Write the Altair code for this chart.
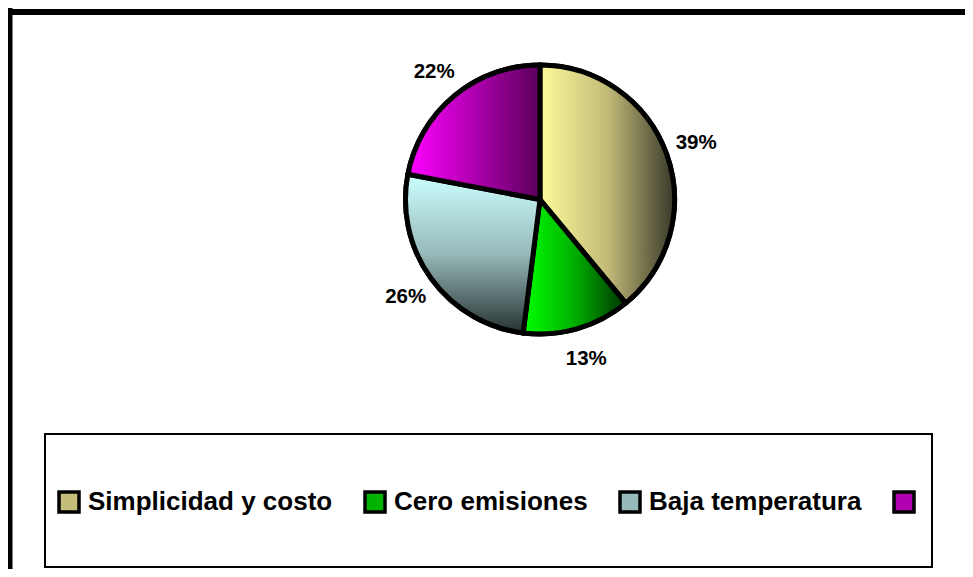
import math
import altair as alt
import pandas as pd

# ---- data ----
categories = ["Simplicidad y costo", "Cero emisiones", "Baja temperatura", " "]
values = [39, 13, 26, 22]
order = [0, 1, 2, 3]

# ---- styling ----
flat_colors = ["#c5be7a", "#00b300", "#97b9b9", "#b000b0"]
gradients = [
    {"gradient": "linear", "x1": 0, "y1": 0, "x2": 1, "y2": 0,
     "stops": [{"offset": 0, "color": "#fdfb9b"}, {"offset": 0.5, "color": "#c2bb78"},
               {"offset": 1, "color": "#38382a"}]},
    {"gradient": "linear", "x1": 0, "y1": 0, "x2": 1, "y2": 0,
     "stops": [{"offset": 0, "color": "#00ff00"}, {"offset": 0.5, "color": "#00b000"},
               {"offset": 1, "color": "#003300"}]},
    {"gradient": "linear", "x1": 0, "y1": 0, "x2": 0, "y2": 1,
     "stops": [{"offset": 0, "color": "#ccffff"}, {"offset": 0.5, "color": "#97b9b9"},
               {"offset": 1, "color": "#263232"}]},
    {"gradient": "linear", "x1": 0, "y1": 0, "x2": 1, "y2": 0,
     "stops": [{"offset": 0, "color": "#ff00ff"}, {"offset": 0.5, "color": "#b000b0"},
               {"offset": 1, "color": "#5a005a"}]},
]

W, H = 957, 561
CX, CY, R = 532, 191.5, 134.5
FONT = "Liberation Sans"

df = pd.DataFrame({"cat": categories, "value": values, "order": order})

theta_scale = alt.Scale(domain=[0, 100], range=[0, 2 * math.pi])

base = (
    alt.Chart(df)
    .transform_window(cum="sum(value)", sort=[alt.SortField("order")], frame=[None, 0])
    .transform_calculate(start="datum.cum - datum.value",
                         mid="datum.cum - datum.value / 2",
                         label="datum.value + '%'")
)

flat = base.mark_arc(stroke="black", strokeWidth=5, strokeJoin="round").encode(
    theta=alt.Theta("start:Q", stack=None, scale=theta_scale),
    theta2="cum:Q",
    radius=alt.value(R),
    x=alt.value(CX),
    y=alt.value(CY),
    color=alt.Color(
        "cat:N",
        scale=alt.Scale(domain=categories, range=flat_colors),
        legend=alt.Legend(
            title=None,
            orient="none",
            legendX=48,
            legendY=481,
            direction="horizontal",
            columns=4,
            columnPadding=25,
            symbolType="square",
            symbolSize=400,
            symbolStrokeColor="black",
            symbolStrokeWidth=3.5,
            labelFont=FONT,
            labelFontWeight="bold",
            labelFontSize=26,
            labelColor="black",
            labelLimit=500,
            labelOffset=6,
            padding=0,
        ),
    ),
)

slices = []
for c, g in zip(categories, gradients):
    slices.append(
        base.transform_filter(alt.datum.cat == c)
        .mark_arc(fill=g, stroke="black", strokeWidth=5, strokeJoin="round")
        .encode(
            theta=alt.Theta("start:Q", stack=None, scale=theta_scale),
            theta2="cum:Q",
            radius=alt.value(R),
            x=alt.value(CX),
            y=alt.value(CY),
        )
    )

labels = base.mark_text(font=FONT, fontWeight="bold", fontSize=20.5, color="black").encode(
    theta=alt.Theta("mid:Q", stack=None, scale=theta_scale),
    radius=alt.value(166),
    x=alt.value(CX),
    y=alt.value(CY),
    text="label:N",
)

one = alt.Data(values=[{"k": 0}])
legend_box = alt.Chart(one).mark_rect(fill="white", fillOpacity=0, stroke="black", strokeWidth=2).encode(
    x=alt.value(37), x2=alt.value(924), y=alt.value(426), y2=alt.value(559)
)
top_rule = alt.Chart(one).mark_rule(color="black", strokeWidth=6).encode(
    x=alt.value(0), x2=alt.value(W), y=alt.value(4)
)
left_rule = alt.Chart(one).mark_rule(color="black", strokeWidth=6).encode(
    x=alt.value(1.5), y=alt.value(0), y2=alt.value(H)
)

chart = (
    alt.layer(legend_box, top_rule, left_rule, flat, *slices, labels)
    .properties(width=W, height=H, padding=0, autosize=alt.AutoSizeParams(type="none"),
                background="white")
    .configure_view(strokeWidth=0)
)

chart.save("out.html", embed_options={"renderer": "svg", "actions": False})
